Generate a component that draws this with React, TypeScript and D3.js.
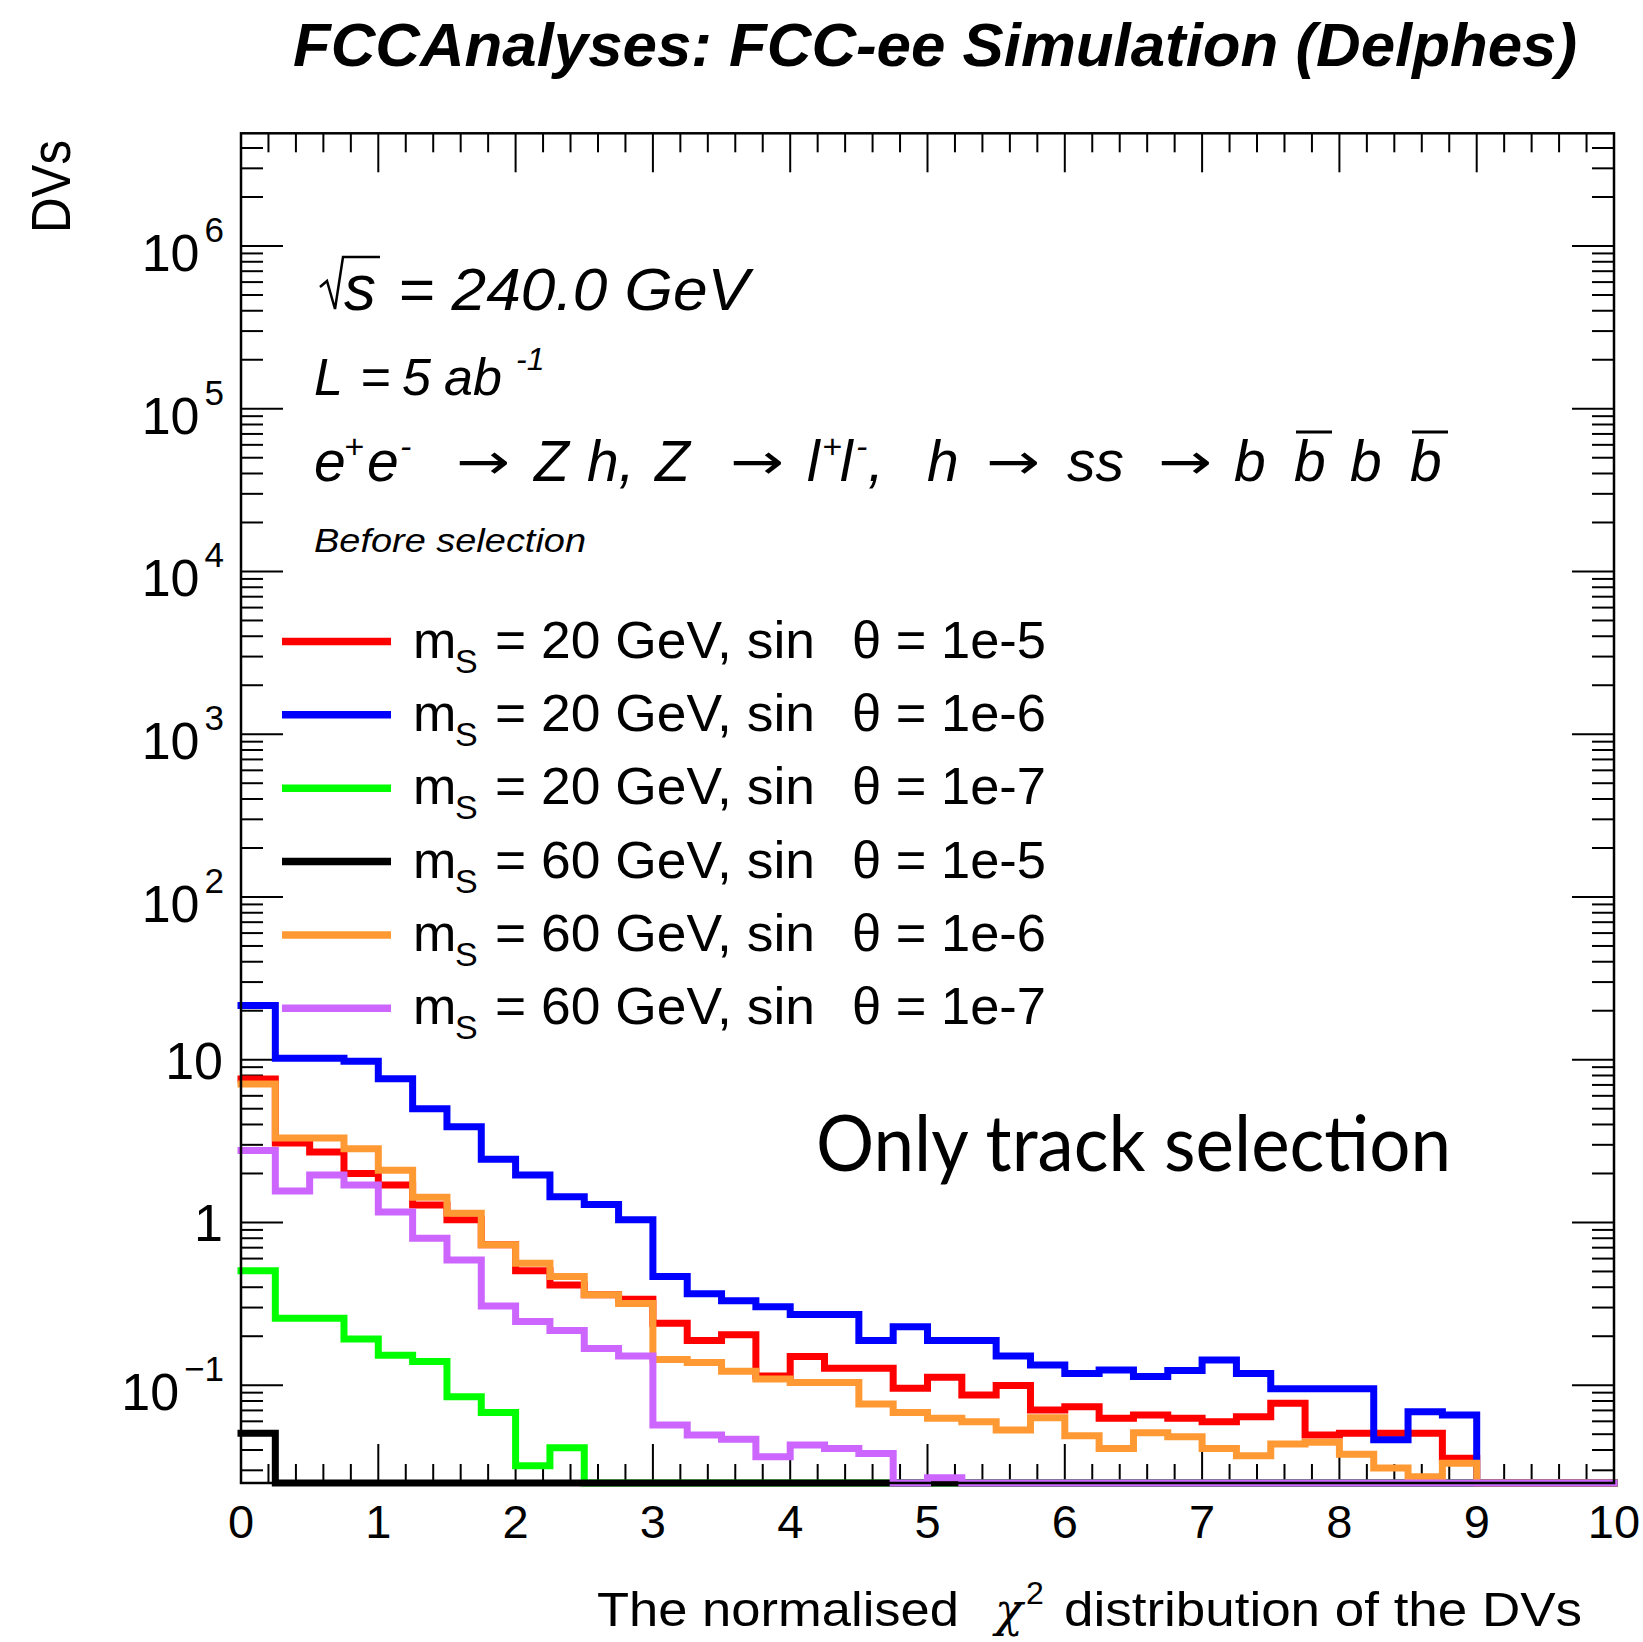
import React from 'react';
import * as d3 from 'd3';

// ---------------- data ----------------
const X_MIN = 0;
const X_MAX = 10;
const N_BINS = 40;

const red_m20_1e5 = [7.6, 3.08, 2.71, 2.0, 1.7, 1.28, 1.04, 0.73, 0.505, 0.413,
  0.36, 0.338, 0.24, 0.188, 0.204, 0.114, 0.15, 0.127, 0.127, 0.0957,
  0.112, 0.0871, 0.0995, 0.0705, 0.0738, 0.0627, 0.0657, 0.0627, 0.0597, 0.0641,
  0.0775, 0.0495, 0.0507, 0.0507, 0.0507, 0.0356, 0, 0, 0, 0];
const blue_m20_1e6 = [21.5, 10.2, 10.2, 9.8, 7.65, 5.0, 3.88, 2.45, 1.96, 1.44,
  1.29, 1.04, 0.465, 0.365, 0.33, 0.304, 0.272, 0.272, 0.188, 0.229,
  0.188, 0.188, 0.151, 0.133, 0.118, 0.124, 0.113, 0.123, 0.143, 0.118,
  0.095, 0.095, 0.095, 0.0463, 0.0687, 0.0656, 0, 0, 0, 0];
const green_m20_1e7 = [0.505, 0.258, 0.258, 0.192, 0.153, 0.14, 0.085, 0.068, 0.032, 0.0413,
  0, 0, 0, 0, 0, 0, 0, 0, 0, 0,
  0, 0, 0, 0, 0, 0, 0, 0, 0, 0,
  0, 0, 0, 0, 0, 0, 0, 0, 0, 0];
const black_m60_1e5 = [0.0507, 0, 0, 0, 0, 0, 0, 0, 0, 0,
  0, 0, 0, 0, 0, 0, 0, 0, 0, 0,
  0, 0, 0, 0, 0, 0, 0, 0, 0, 0,
  0, 0, 0, 0, 0, 0, 0, 0, 0, 0];
const orange_m60_1e6 = [7.1, 3.3, 3.3, 2.84, 2.09, 1.43, 1.14, 0.73, 0.561, 0.465,
  0.36, 0.318, 0.144, 0.138, 0.122, 0.109, 0.104, 0.104, 0.0766, 0.068,
  0.0627, 0.0597, 0.0531, 0.063, 0.049, 0.0409, 0.051, 0.0483, 0.0409, 0.0368,
  0.0435, 0.0446, 0.0376, 0.031, 0.0274, 0.0331, 0, 0, 0, 0];
const purple_m60_1e7 = [2.77, 1.56, 1.96, 1.7, 1.16, 0.8, 0.589, 0.307, 0.246, 0.217,
  0.168, 0.151, 0.057, 0.0495, 0.0465, 0.0364, 0.0429, 0.0409, 0.038, 0,
  0.027, 0, 0, 0, 0, 0, 0, 0, 0, 0,
  0, 0, 0, 0, 0, 0, 0, 0, 0, 0];

const legendMass = ['20', '20', '20', '60', '60', '60'];
const legendSin = ['1e-5', '1e-6', '1e-7', '1e-5', '1e-6', '1e-7'];
const seriesColors = ['#ff0000', '#0000ff', '#00ff00', '#000000', '#ff9933', '#cc66ff'];
const seriesValues = [red_m20_1e5, blue_m20_1e6, green_m20_1e7, black_m60_1e5, orange_m60_1e6, purple_m60_1e7];

const xTickLabels = ['0', '1', '2', '3', '4', '5', '6', '7', '8', '9', '10'];
const yDecades = [-1, 0, 1, 2, 3, 4, 5, 6];
const Y_MIN = 0.02507;
const Y_MAX = 4.925e6;

// ---------------- component ----------------
export default function App() {
  const W = 1643, H = 1642;
  const L = 241, R = 1614, T = 133.3, B = 1483;
  const x = d3.scaleLinear().domain([X_MIN, X_MAX]).range([L, R]);
  const y = d3.scaleLog().domain([Y_MIN, Y_MAX]).range([B, T]);
  const binW = (X_MAX - X_MIN) / N_BINS;

  const histPath = (vals: number[]) => {
    const pts: [number, number][] = vals.map((v, i) => [X_MIN + i * binW, Math.max(v, Y_MIN)]);
    pts.push([X_MAX, Math.max(vals[vals.length - 1], Y_MIN)]);
    return d3.line<[number, number]>()
      .x(d => x(d[0]))
      .y(d => y(d[1]))
      .curve(d3.curveStepAfter)(pts) as string;
  };

  const xMajor = d3.range(0, 11, 1);
  const xMinor = d3.range(0, 50, 1).map(i => i * 0.2).filter(v => Math.abs(v - Math.round(v)) > 1e-6);
  const yMajor = yDecades.map(d => Math.pow(10, d));
  const yMinor: number[] = [];
  for (let d = -2; d <= 6; d++) {
    for (let k = 2; k <= 9; k++) {
      const v = k * Math.pow(10, d);
      if (v > Y_MIN && v < Y_MAX) yMinor.push(v);
    }
  }

  const helv = "'Liberation Sans', Arial, Helvetica, sans-serif";
  const arrowFont = "'DejaVu Sans', sans-serif";
  const lg0 = 641.5, lgStep = 73.35;
  const arrowX = [456, 730, 986, 1158];

  return (
    <svg width={W} height={H} viewBox={`0 0 ${W} ${H}`}
      style={{ position: 'absolute', left: 0, top: 0, background: '#fff' }}
      xmlns="http://www.w3.org/2000/svg">
      <rect x={0} y={0} width={W} height={H} fill="#fff" />

      {/* title */}
      <text x={293} y={66} fontFamily={helv} fontWeight="bold" fontStyle="italic" fontSize={61}
        textLength={1284} lengthAdjust="spacingAndGlyphs">FCCAnalyses: FCC-ee Simulation (Delphes)</text>

      {/* ticks */}
      <g stroke="#000" strokeWidth={2}>
        {xMajor.map(v => (
          <g key={'xM' + v}>
            <line x1={x(v)} x2={x(v)} y1={B} y2={B - 39} />
            <line x1={x(v)} x2={x(v)} y1={T} y2={T + 39} />
          </g>
        ))}
        {xMinor.map(v => (
          <g key={'xm' + v}>
            <line x1={x(v)} x2={x(v)} y1={B} y2={B - 19} />
            <line x1={x(v)} x2={x(v)} y1={T} y2={T + 19} />
          </g>
        ))}
        {yMajor.map(v => (
          <g key={'yM' + v}>
            <line x1={L} x2={L + 42} y1={y(v)} y2={y(v)} />
            <line x1={R} x2={R - 42} y1={y(v)} y2={y(v)} />
          </g>
        ))}
        {yMinor.map(v => (
          <g key={'ym' + v}>
            <line x1={L} x2={L + 22} y1={y(v)} y2={y(v)} />
            <line x1={R} x2={R - 22} y1={y(v)} y2={y(v)} />
          </g>
        ))}
      </g>

      {/* histograms */}
      <g fill="none" strokeWidth={7} strokeLinejoin="miter" strokeLinecap="square">
        {seriesValues.map((vals, i) => (
          <path key={'h' + i} d={histPath(vals)} stroke={seriesColors[i]} />
        ))}
      </g>

      {/* frame */}
      <rect x={L} y={T} width={R - L} height={B - T} fill="none" stroke="#000" strokeWidth={2.5} />

      {/* x tick labels */}
      {xTickLabels.map((t, i) => (
        <text key={'xl' + t} x={x(xMajor[i])} y={1538} textAnchor="middle" fontFamily={helv} fontSize={47}>{t}</text>
      ))}

      {/* y tick labels */}
      {yDecades.map(d => {
        const ty = y(Math.pow(10, d));
        if (d === 0 || d === 1) {
          return <text key={'yl' + d} x={223} y={ty + 19} textAnchor="end" fontFamily={helv} fontSize={52}>{d === 0 ? '1' : '10'}</text>;
        }
        return (
          <text key={'yl' + d} x={224} y={ty + 25} textAnchor="end" fontFamily={helv} fontSize={52}>
            10<tspan dy={-29} fontSize={35} dx={5}>{d < 0 ? '\u2212' + String(-d) : String(d)}</tspan>
          </text>
        );
      })}

      {/* axis titles */}
      <text transform="translate(70,233) rotate(-90)" x={0} y={0} fontFamily={helv} fontSize={56}
        textLength={93} lengthAdjust="spacingAndGlyphs">DVs</text>
      <text x={597} y={1626} fontFamily={helv} fontSize={48} textLength={362} lengthAdjust="spacingAndGlyphs">The normalised</text>
      <text x={995} y={1626} fontFamily="'DejaVu Serif', serif" fontStyle="italic" fontSize={46}>χ</text>
      <text x={1026} y={1604} fontFamily={helv} fontSize={32}>2</text>
      <text x={1064} y={1626} fontFamily={helv} fontSize={48} textLength={518} lengthAdjust="spacingAndGlyphs">distribution of the DVs</text>

      {/* sqrt(s) annotation */}
      <path d="M320,287 L327,281 L335,309 L343,257 L380,257" fill="none" stroke="#000" strokeWidth={2.5} />
      <text x={344} y={310} fontFamily={helv} fontStyle="italic" fontSize={64}>s</text>
      <text x={398} y={310} fontFamily={helv} fontStyle="italic" fontSize={60} textLength={351} lengthAdjust="spacingAndGlyphs">= 240.0 GeV</text>

      {/* luminosity */}
      <text y={395} fontFamily={helv} fontStyle="italic" fontSize={52}>
        <tspan x={314}>L</tspan>
        <tspan x={360}>=</tspan>
        <tspan x={402}>5</tspan>
        <tspan x={444}>ab</tspan>
      </text>
      <text x={516} y={370} fontFamily={helv} fontStyle="italic" fontSize={32}>-1</text>

      {/* process */}
      <g fontFamily={helv} fontStyle="italic" fontSize={57}>
        <text y={481}>
          <tspan x={314}>e</tspan>
          <tspan x={367}>e</tspan>
          <tspan x={534}>Z</tspan>
          <tspan x={587}>h,</tspan>
          <tspan x={655}>Z</tspan>
          <tspan x={807}>l</tspan>
          <tspan x={840}>l</tspan>
          <tspan x={868}>,</tspan>
          <tspan x={927}>h</tspan>
          <tspan x={1067}>ss</tspan>
          <tspan x={1234}>b</tspan>
          <tspan x={1294}>b</tspan>
          <tspan x={1350}>b</tspan>
          <tspan x={1410}>b</tspan>
        </text>
        <text y={458} fontSize={34}>
          <tspan x={344}>+</tspan>
          <tspan x={400}>-</tspan>
          <tspan x={822}>+</tspan>
          <tspan x={856}>-</tspan>
        </text>
      </g>
      {arrowX.map((ax, i) => (
        <text key={'ar' + i} x={ax} y={479} fontFamily={arrowFont} fontSize={50}
          textLength={54} lengthAdjust="spacingAndGlyphs">→</text>
      ))}
      <line x1={1296} x2={1332} y1={432} y2={432} stroke="#000" strokeWidth={3} />
      <line x1={1412} x2={1448} y1={432} y2={432} stroke="#000" strokeWidth={3} />

      <text x={314} y={552} fontFamily={helv} fontStyle="italic" fontSize={33} textLength={272} lengthAdjust="spacingAndGlyphs">Before selection</text>

      {/* legend */}
      {seriesColors.map((c, i) => {
        const cy = lg0 + i * lgStep;
        return (
          <g key={'lg' + i}>
            <line x1={282} x2={391} y1={cy} y2={cy} stroke={c} strokeWidth={7.5} />
            <text x={413} y={cy + 16} fontFamily={helv} fontSize={52}>m</text>
            <text x={455} y={cy + 31} fontFamily={helv} fontSize={34}>S</text>
            <text x={495} y={cy + 16} fontFamily={helv} fontSize={52} textLength={320} lengthAdjust="spacingAndGlyphs">{`= ${legendMass[i]} GeV, sin`}</text>
            <text x={852} y={cy + 16} fontFamily={helv} fontSize={52} textLength={194} lengthAdjust="spacingAndGlyphs">{`θ = ${legendSin[i]}`}</text>
          </g>
        );
      })}

      {/* overlay note */}
      <text x={816} y={1171} fontFamily="Lato, 'Open Sans', sans-serif" fontSize={78} textLength={635} lengthAdjust="spacingAndGlyphs">Only track selection</text>
    </svg>
  );
}
